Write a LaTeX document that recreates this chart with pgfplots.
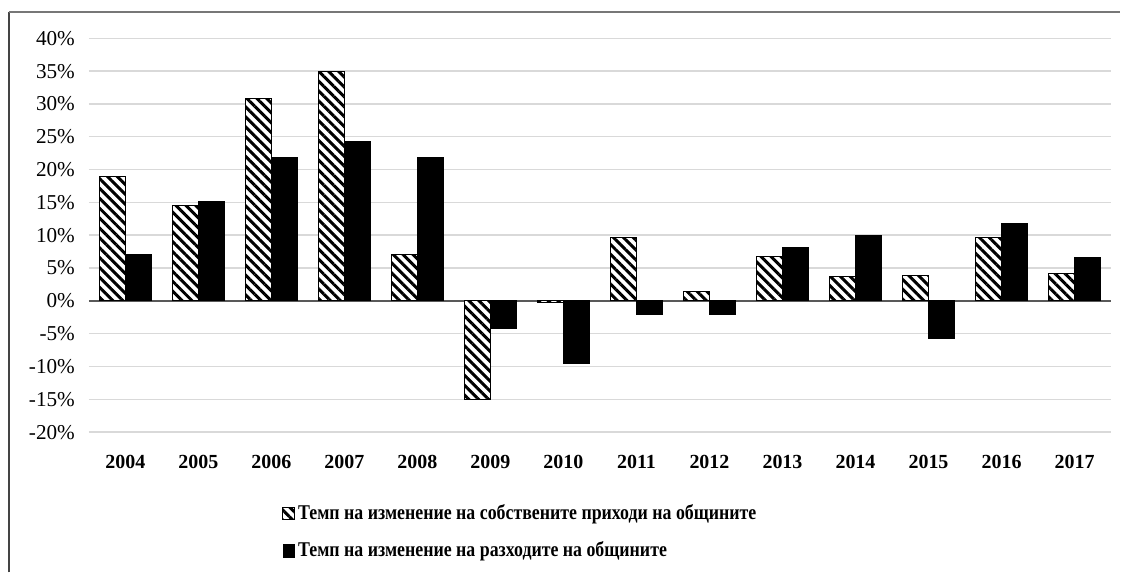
\documentclass[border=0pt]{standalone}
\usepackage{fontspec}
\setmainfont{Liberation Serif}
\newfontfamily\legfont{Liberation Serif}[FakeStretch=0.85]
\usepackage{pgfplots}
\usepackage{pgfplotstable}
\pgfplotsset{compat=1.18}
\usetikzlibrary{patterns.meta}

\definecolor{gridgray}{HTML}{D9D9D9}
\definecolor{zerogray}{HTML}{595959}
\definecolor{topgray}{HTML}{777777}
\definecolor{leftgray}{HTML}{444444}

\pgfplotsset{
  hatchleg/.style={legend image code/.code={\draw[##1] (0pt,-3pt) rectangle (6pt,3pt);}},
  solidleg/.style={legend image code/.code={\draw[##1] (0.25pt,-3.25pt) rectangle (5.75pt,3.25pt);}},
}

\pgfplotstableread{
x own exp
0 18.9 7.1
1 14.5 15.1
2 30.8 21.9
3 35.0 24.2
4 7.0 21.9
5 -15.0 -4.2
6 -0.3 -9.6
7 9.7 -2.1
8 1.4 -2.1
9 6.8 8.1
10 3.7 10.0
11 3.9 -5.8
12 9.7 11.8
13 4.2 6.6
}\data

\begin{document}
\begin{tikzpicture}
\begin{axis}[
  scale only axis, width=511.5pt, height=197.1pt,
  xmin=-0.5, xmax=13.5, ymin=-20, ymax=40,
  ybar, bar width=0.36,
  xtick={0,...,13},
  xticklabels={2004,2005,2006,2007,2008,2009,2010,2011,2012,2013,2014,2015,2016,2017},
  ytick={-20,-15,...,40},
  yticklabels={-20\%,-15\%,-10\%,-5\%,0\%,5\%,10\%,15\%,20\%,25\%,30\%,35\%,40\%},
  ymajorgrids, grid style={gridgray, line width=0.75pt},
  axis line style={draw=none}, major tick length=0pt,
  tick label style={font=\fontsize{10.6}{12}\selectfont},
  xticklabel style={font=\bfseries\fontsize{10}{12}\selectfont, yshift=-8pt},
  yticklabel style={xshift=-3.5pt},
  extra y ticks={0}, extra y tick labels={},
  extra y tick style={grid style={zerogray, line width=0.75pt}},
  legend style={at={(axis description cs:0.1887,-0.176)}, anchor=north west,
    draw=none, fill=none, inner sep=0pt,
    font=\legfont\bfseries\fontsize{10.5}{12}\selectfont, row sep=6.5pt,
    nodes={inner sep=1.5pt}},
  legend cell align=left,
  clip=false,
]
\addplot[bar shift=-0.18, draw=black, line width=0.5pt, fill=white,
  postaction={pattern={Lines[angle=-45,distance=3.5pt,line width=1.5pt]}},
  hatchleg]
  table[x=x,y=own]{\data};
\addlegendentry{Темп на изменение на собствените приходи на общините}
\addplot[bar shift=0.18, draw=black, line width=0.5pt, fill=black, solidleg]
  table[x=x,y=exp]{\data};
\addlegendentry{Темп на изменение на разходите на общините}
\end{axis}
\draw[leftgray, line width=1pt] (-40pt,-70.25pt) -- (-40pt,210.25pt);
\draw[topgray, line width=1pt] (-40pt,210.25pt) -- (516pt,210.25pt);
\path[use as bounding box] (-44.5pt,-70.25pt) rectangle (516pt,216.25pt);
\end{tikzpicture}
\end{document}
